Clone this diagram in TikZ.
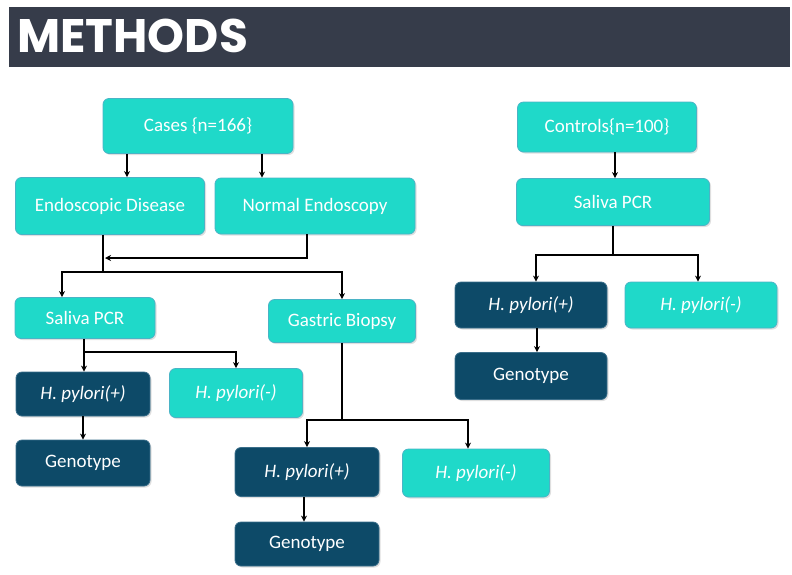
\documentclass[tikz,border=0pt]{standalone}
\usepackage{fontspec}
\setmainfont{Carlito}
\newfontfamily\headfont{Poppins}
\usetikzlibrary{arrows.meta,shadows}
\definecolor{turq}{HTML}{1FD9C9}
\definecolor{turqline}{HTML}{4AB4C6}
\definecolor{navy}{HTML}{0D4A68}
\definecolor{navyline}{HTML}{3A6E8A}
\definecolor{headbar}{HTML}{363C4A}
\begin{document}
\begin{tikzpicture}[x=1pt,y=-1pt,
  boxbase/.style={rounded corners=6pt, line width=0.8pt, text=white, font=\fontsize{19}{22}\selectfont,
    drop shadow={shadow xshift=1.5pt, shadow yshift=-1.5pt, opacity=0.25}},
  lightbox/.style={boxbase, fill=turq, draw=turqline},
  darkbox/.style={boxbase, fill=navy, draw=navyline},
  sz/.style n args={2}{minimum width=#1pt, minimum height=#2pt, inner sep=0pt},
  arr/.style={draw=black, line width=1.3pt, -{Stealth[length=6pt,width=6pt]}},
  ln/.style={draw=black, line width=1.3pt}]
\useasboundingbox (0,0) rectangle (792,574);
\fill[headbar] (9,7) rectangle (790,67);
\node[anchor=base west, text=white, inner sep=0pt, font=\headfont\bfseries\fontsize{47}{52}\selectfont] (title) at (17,52) {METHODS};

% left tree
\node[lightbox, sz={190}{55}] (cases) at (198,126) {Cases \{n=166\}};
\node[lightbox, sz={189}{57}] (ed) at (110,206) {Endoscopic Disease};
\node[lightbox, sz={200}{56}] (ne) at (315,206) {Normal Endoscopy};
\node[lightbox, sz={140}{41}] (sp1) at (85,318) {Saliva PCR};
\node[lightbox, sz={147}{43}] (gb) at (342,321) {Gastric Biopsy};
\node[darkbox, sz={134}{44}] (hpl) at (83,394) {\itshape H. pylori(+)};
\node[lightbox, sz={133}{49}] (hnl) at (236,393) {\itshape H. pylori(-)};
\node[darkbox, sz={134}{46}] (gel) at (83,463) {Genotype};
\node[darkbox, sz={144}{49}] (hpb) at (307,472) {\itshape H. pylori(+)};
\node[lightbox, sz={147}{48}] (hnb) at (476,473) {\itshape H. pylori(-)};
\node[darkbox, sz={144}{44}] (geb) at (307,544) {Genotype};

% right tree
\node[lightbox, sz={179}{50}] (ctrl) at (607,127) {Controls\{n=100\}};
\node[lightbox, sz={193}{47}] (sp2) at (613,202) {Saliva PCR};
\node[darkbox, sz={152}{46}] (hpr) at (531,305) {\itshape H. pylori(+)};
\node[lightbox, sz={152}{46}] (hnr) at (701,305) {\itshape H. pylori(-)};
\node[darkbox, sz={152}{47}] (ger) at (531,376) {Genotype};

% junction coordinates
\coordinate (m1) at (103,258);
\coordinate (j1) at (103,272);
\coordinate (j2) at (84,352);
\coordinate (j3) at (342,420);
\coordinate (j4) at (613,255);

% connectors left
\draw[arr] ([xshift=-71]cases.south) -- ([xshift=-71]cases.south |- ed.north);
\draw[arr] ([xshift=64]cases.south) -- ([xshift=64]cases.south |- ne.north);
\draw[ln] (ed.south -| j1) -- (j1);
\draw[arr] ([xshift=-8]ne.south) |- ([xshift=2]m1);
\draw[arr] (j1) -| ([xshift=-23]sp1.north);
\draw[arr] (j1) -| (gb.north);
\draw[ln] (sp1.south -| j2) -- (j2);
\draw[arr] (j2) -| (hpl.north -| j2);
\draw[arr] (j2) -| (hnl.north);
\draw[arr] (hpl.south) -- (gel.north);
\draw[ln] (gb.south) -- (j3);
\draw[arr] (j3) -| (hpb.north);
\draw[arr] (j3) -| ([xshift=-8]hnb.north);
\draw[arr] ([xshift=-3]hpb.south) -- ([xshift=-3]geb.north);

% connectors right
\draw[arr] ([xshift=8]ctrl.south) -- ([xshift=8]ctrl.south |- sp2.north);
\draw[ln] (sp2.south) -- (j4);
\draw[arr] (j4) -| ([xshift=5]hpr.north);
\draw[arr] (j4) -| ([xshift=-3]hnr.north);
\draw[arr] ([xshift=6]hpr.south) -- ([xshift=6]ger.north);
\end{tikzpicture}
\end{document}
